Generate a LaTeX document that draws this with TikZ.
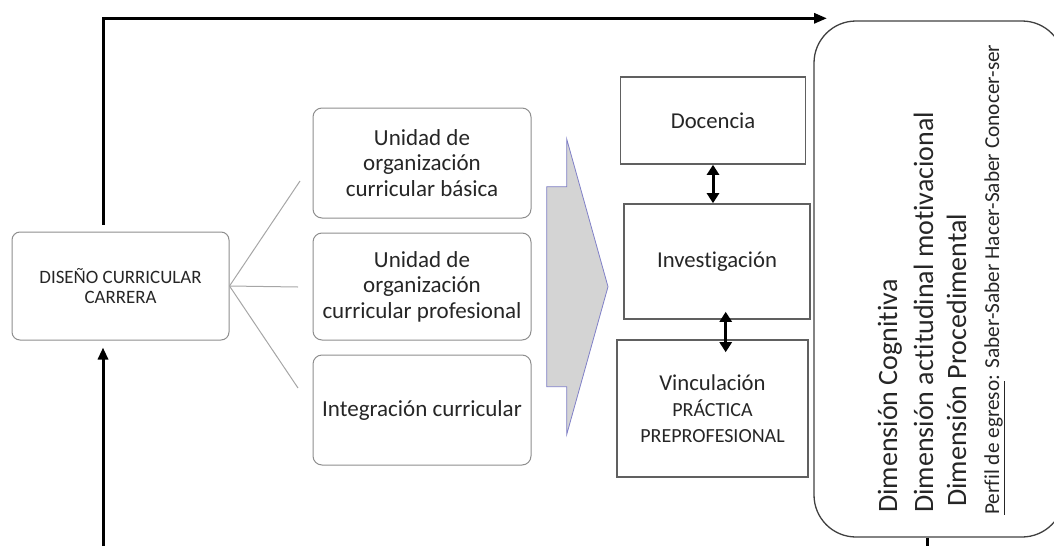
\documentclass[tikz,border=0pt]{standalone}
\usepackage{fontspec}
\setmainfont{Carlito}[Ligatures=NoCommon]
\usetikzlibrary{arrows.meta,calc}
\definecolor{textc}{HTML}{262626}
\definecolor{lgray}{HTML}{8E8E8E}
\definecolor{rgray}{HTML}{606060}
\definecolor{bgray}{HTML}{404040}
\definecolor{conngray}{HTML}{A6A6A6}
\definecolor{agray}{HTML}{D4D4D4}
\definecolor{apurple}{RGB}{128,128,200}
\newcommand{\capsfont}{\fontsize{20}{25}\selectfont}
\begin{document}
\begin{tikzpicture}[x=1pt,y=-1pt,
  txt/.style={text=textc, align=center, inner sep=0pt},
  lbox/.style={txt, draw=lgray, line width=1pt, rounded corners=9pt, minimum width=218pt, font=\fontsize{23}{25.5}\selectfont},
  rbox/.style={txt, draw=rgray, line width=1.6pt, font=\fontsize{22.7}{26}\selectfont},
  rot/.style={txt, rotate=90, anchor=base west},
  blk/.style={line width=3pt, black},
  conn/.style={draw=conngray, line width=1pt},
  dbl/.style={line width=3pt, black, {Triangle[length=10pt,width=12pt]}-{Triangle[length=10pt,width=12pt]}}
]
\useasboundingbox (0,0) rectangle (1054,546);
\clip (0,0) rectangle (1054,546);

% left box
\node[lbox, minimum width=217pt, minimum height=108pt, rounded corners=8pt, font=\fontsize{18.9}{20}\selectfont] (dis) at (120.5,286) {DISEÑO CURRICULAR\\CARRERA};

% unit boxes
\node[lbox, minimum height=110pt] (b1) at (422,163) {Unidad de\\organización\\curricular básica};
\node[lbox, minimum height=107pt] (b2) at (422,286.5) {Unidad de\\organización\\curricular profesional};
\node[lbox, minimum height=110pt] (b3) at (422,410) {Integración curricular};

% connectors from DISEÑO box
\coordinate (c1) at (300,181);
\coordinate (c2) at (298,287);
\coordinate (c3) at (298,388);
\draw[conn] (dis.east) -- (c1);
\draw[conn] (dis.east) -- (c2);
\draw[conn] (dis.east) -- (c3);

% block arrow
\draw[fill=agray, draw=apurple, line width=0.8pt]
  (546.7,186.7) -- (566.7,186.7) -- (566.7,139) -- (608,286.7) -- (566.7,434.5) -- (566.7,386.7) -- (546.7,386.7) -- cycle;

% right boxes
\node[rbox, minimum width=185pt, minimum height=87pt] (doc) at (713,120.5) {Docencia};
\node[rbox, minimum width=186pt, minimum height=115pt] (inv) at (717,261.5) {Investigación};
\node[rbox, minimum width=191pt, minimum height=137pt] (vin) at (712.5,408.5) {Vinculación\\{\capsfont PRÁCTICA}\\{\capsfont PREPROFESIONAL}};

\draw[dbl] (doc.south) -- (doc.south |- inv.north);
\draw[dbl] ($(inv.south)+(8.7,-8)$) -- ($(vin.north)+(13.2,13)$);

% big rounded box
\node[draw=bgray, line width=1.3pt, rounded corners=42pt, minimum width=250pt, minimum height=516pt, inner sep=0pt] (big) at (939,279) {};

\node[rot, font=\fontsize{28}{34}\selectfont] (t1) at (897,513) {Dimensión Cognitiva};
\node[rot, font=\fontsize{28}{34}\selectfont] (t2) at (933,513) {Dimensión actitudinal motivacional};
\node[rot, font=\fontsize{28}{34}\selectfont] (t3) at (966,507) {Dimensión Procedimental};
\node[rot, font=\fontsize{21.3}{26}\selectfont] (t4) at (999,515) {\underline{Perfil de egreso}: Saber-Saber Hacer-Saber Conocer-ser};

% black feedback lines
\coordinate (tl) at (103,18.3);
\coordinate (tr) at (827,18.3);
\draw[blk, -{Triangle[length=13pt,width=10pt]}] ([xshift=-17.5pt,yshift=7pt]dis.north) -- (tl) -- (tr);
\coordinate (bl) at (103,546);
\draw[blk, -{Triangle[length=12pt,width=10pt]}] (bl) -- ([xshift=-17.5pt,yshift=-7pt]dis.south);
\coordinate (br) at (927,546);
\draw[blk] ([xshift=-12pt]big.south) -- (br);
\end{tikzpicture}
\end{document}
